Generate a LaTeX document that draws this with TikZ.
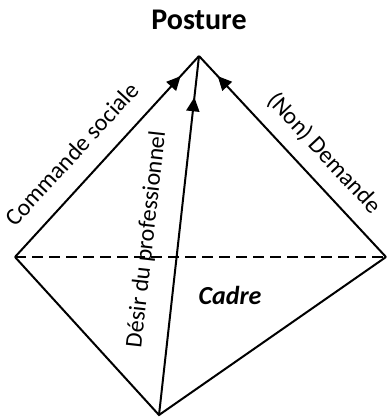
\documentclass[tikz,border=0pt]{standalone}
\usepackage{fontspec}
\setmainfont{Carlito}
\usetikzlibrary{arrows.meta,decorations.markings}

\begin{document}
\begin{tikzpicture}[x=1pt,y=-1pt,
	edge/.style={line width=2pt},
	pointer/.style={postaction={decorate},decoration={markings,
		mark=at position #1 with {\arrow{Triangle[length=14pt,width=13pt]}}}},
	lbl/.style={font=\fontsize{24}{28}\selectfont,inner sep=2pt}]
	\useasboundingbox (0,0) rectangle (387,417);
	% corners of the figure
	\coordinate (top) at (199,56);
	\coordinate (left) at (15,257);
	\coordinate (right) at (386,257);
	\coordinate (bottom) at (159,415);
	\node (posture) at (199,20) {\fontsize{30}{34}\selectfont\bfseries Posture};
	\node (cadre) at (230,295) {\fontsize{26}{30}\selectfont\bfseries\itshape Cadre};
	\draw[edge,dashed,dash pattern=on 11pt off 6pt] (left) -- (right);
	\draw[edge] (left) -- (bottom) -- (right);
	\draw[edge,pointer=0.9] (left) -- (top);
	\draw[edge,pointer=0.9] (right) -- (top);
	\draw[edge,pointer=0.885] (bottom) -- (top);
	\path (left) -- (top) node[lbl,sloped,above=17pt,pos=0.42] {Commande sociale};
	\path (top) -- (right) node[lbl,sloped,above=13pt,pos=0.57] {(Non) Demande};
	\path (bottom) -- (top) node[lbl,sloped,above=19pt,pos=0.48] {Désir du professionnel};
\end{tikzpicture}
\end{document}
